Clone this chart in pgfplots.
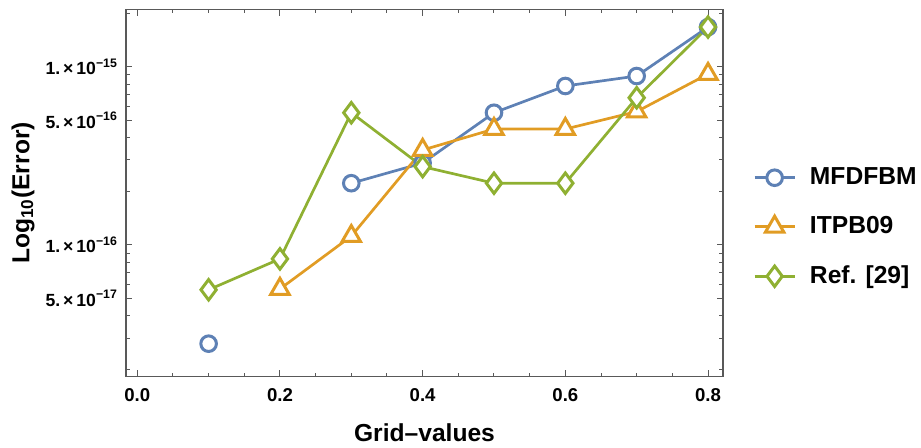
\documentclass[border=0pt]{standalone}
\usepackage{pgfplots}
\pgfplotsset{compat=1.18}
\usepackage{fontspec}
\setmainfont{Liberation Sans}
\definecolor{cblue}{HTML}{5E81B5}
\definecolor{corange}{HTML}{E19C24}
\definecolor{cgreen}{HTML}{8FB032}
\begin{document}
\begin{tikzpicture}
\useasboundingbox (-63pt,-35.15pt) rectangle (397.5pt,188.35pt);
\begin{axis}[
  at={(0pt,0pt)}, anchor=south west,
  scale only axis, width=298.5pt, height=183.7pt,
  xmin=-0.0158, xmax=0.821,
  ymode=log, ymin=1.82e-17, ymax=2.1e-15,
  axis line style={black!65, line width=0.6pt},
  every tick/.style={black!65, line width=0.5pt},
  major tick length=3.2pt, minor tick length=1.8pt,
  xtick={0,0.2,0.4,0.6,0.8},
  minor xtick={0.05,0.1,0.15,0.25,0.3,0.35,0.45,0.5,0.55,0.65,0.7,0.75},
  xticklabel style={/pgf/number format/.cd, fixed, fixed zerofill, precision=1, assume math mode=true},
  ytick={5e-17,1e-16,5e-16,1e-15},
  yticklabels={5.\,×\,10\textsuperscript{−17},1.\,×\,10\textsuperscript{−16},5.\,×\,10\textsuperscript{−16},1.\,×\,10\textsuperscript{−15}},
  minor ytick={2e-17,3e-17,4e-17,6e-17,7e-17,8e-17,9e-17,2e-16,3e-16,4e-16,6e-16,7e-16,8e-16,9e-16,2e-15},
  tick label style={font=\bfseries\fontsize{9.3}{10}\selectfont, black},
  yticklabel style={font=\bfseries\fontsize{8.8}{10}\selectfont, xshift=-0.5pt},
  xticklabel shift=2.5pt,
  xlabel={Grid–values},
  ylabel={Log\textsubscript{10}(Error)},
  label style={font=\bfseries\fontsize{12.3}{14}\selectfont},
  xlabel style={at={(axis description cs:0.5,-0.152)}, anchor=center},
  ylabel style={at={(axis description cs:-0.1725,0.5)}, anchor=center, rotate=0},
  legend style={at={(1.040,0.407)}, anchor=west, draw=none, fill=none,
    font=\bfseries\fontsize{12.3}{14}\selectfont, row sep=10.5pt,
    legend cell align=left},
  legend image code/.code={\draw[mark repeat=2,mark phase=2] plot coordinates {(0pt,0pt) (10pt,0pt) (20pt,0pt)}; \path (25pt,0pt);},
  every axis plot/.append style={line width=1.35pt},
]
\addplot[cblue, mark=*, mark size=3.9pt, mark options={fill=white, line width=1.5pt}] coordinates {
 (0.1,2.79e-17)
};
\addplot[cblue, mark=*, mark size=3.9pt, mark options={fill=white, line width=1.5pt}, forget plot] coordinates {
 (0.3,2.22e-16) (0.4,2.88e-16) (0.5,5.52e-16) (0.6,7.8e-16) (0.7,8.87e-16) (0.8,1.67e-15)
};
\addplot[corange, mark=triangle*, mark size=5.3pt, mark options={fill=white, line width=1.5pt}] coordinates {
 (0.2,5.66e-17) (0.3,1.12e-16) (0.4,3.41e-16) (0.5,4.47e-16) (0.6,4.47e-16) (0.7,5.6e-16) (0.8,9.1e-16)
};
\addplot[cgreen, mark=diamond*, mark size=5.1pt, mark options={fill=white, line width=1.5pt}] coordinates {
 (0.1,5.6e-17) (0.2,8.35e-17) (0.3,5.52e-16) (0.4,2.75e-16) (0.5,2.22e-16) (0.6,2.22e-16) (0.7,6.7e-16) (0.8,1.67e-15)
};
\legend{MFDFBM,ITPB09,Ref. [29]}
\end{axis}
\end{tikzpicture}
\end{document}
